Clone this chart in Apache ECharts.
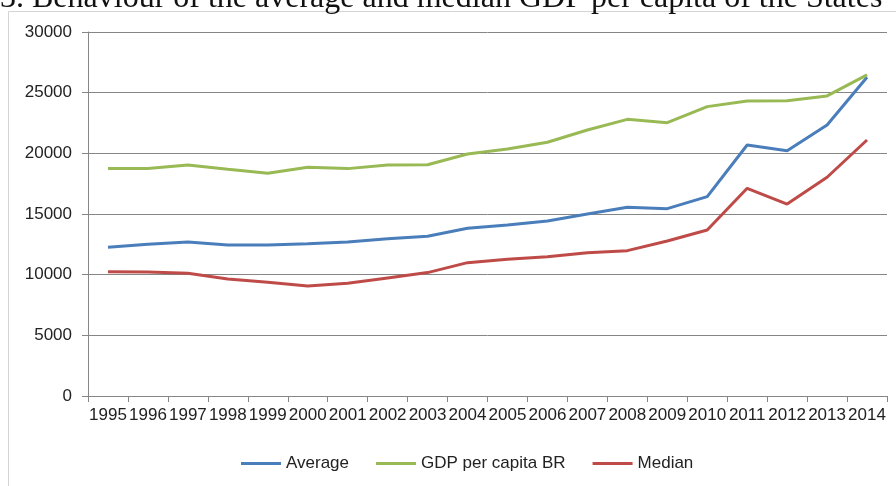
<!DOCTYPE html>
<html>
<head>
<meta charset="utf-8">
<script src="https://cdn.jsdelivr.net/npm/echarts@6/dist/echarts.min.js"></script>
<style>
  html, body { margin: 0; padding: 0; background: #fff; }
  #mainChart { width: 896px; height: 486px; }
</style>
</head>
<body>
<div id="mainChart"></div>
<script>
  var years = ['1995','1996','1997','1998','1999','2000','2001','2002','2003','2004',
               '2005','2006','2007','2008','2009','2010','2011','2012','2013','2014'];
  var average = [12250, 12500, 12690, 12450, 12450, 12550, 12690, 12970, 13160, 13820,
                 14100, 14420, 15000, 15550, 15440, 16430, 20690, 20220, 22340, 26270];
  var gdpBR = [18750, 18750, 19040, 18680, 18350, 18850, 18740, 19040, 19060, 19950,
               20350, 20910, 21920, 22800, 22530, 23850, 24310, 24340, 24730, 26460];
  var median = [10250, 10220, 10110, 9640, 9370, 9070, 9290, 9730, 10170, 10990,
                11270, 11480, 11810, 11980, 12780, 13680, 17120, 15820, 18030, 21100];
  var yTicks = [0, 5000, 10000, 15000, 20000, 25000, 30000];

  var gray = '#868686';
  var labelFont = 'Liberation Sans';

  var options = {
    animation: false,
    title: {
      text: '3. Behaviour of the average and median GDP per capita of the States',
      left: -5,
      top: -22,
      textStyle: {
        fontFamily: 'Liberation Serif',
        fontSize: 32,
        fontWeight: 'normal',
        color: '#111'
      }
    },
    graphic: [{
      type: 'rect',
      shape: { x: 8.5, y: 11.5, width: 1000, height: 1000 },
      style: { fill: 'none', stroke: '#d4d4d4', lineWidth: 1 },
      silent: true
    }],
    grid: {
      left: 88,
      right: 9,
      top: 32,
      bottom: 90
    },
    legend: {
      bottom: 9,
      left: 236,
      icon: 'rect',
      itemWidth: 40,
      itemHeight: 3,
      itemGap: 27,
      textStyle: { fontFamily: labelFont, fontSize: 17, color: '#222' },
      data: ['Average', 'GDP per capita BR', 'Median']
    },
    xAxis: {
      type: 'category',
      data: years,
      boundaryGap: true,
      axisLine: { lineStyle: { color: gray } },
      axisTick: { show: true, length: 6, lineStyle: { color: gray } },
      axisLabel: {
        interval: 0,
        margin: 11,
        fontFamily: labelFont,
        fontSize: 17,
        color: '#222'
      }
    },
    yAxis: {
      type: 'value',
      min: yTicks[0],
      max: yTicks[yTicks.length - 1],
      interval: 5000,
      axisLine: { show: true, lineStyle: { color: gray } },
      axisTick: { show: true, length: 6, lineStyle: { color: gray } },
      splitLine: { lineStyle: { color: gray, width: 1 } },
      axisLabel: {
        margin: 16,
        fontFamily: labelFont,
        fontSize: 17,
        color: '#222',
        formatter: function (v) { return String(v); }
      }
    },
    series: [{
      name: 'Average',
      type: 'line',
      data: average,
      symbol: 'none',
      color: '#4a7ebb',
      lineStyle: { width: 3 }
    }, {
      name: 'GDP per capita BR',
      type: 'line',
      data: gdpBR,
      symbol: 'none',
      color: '#98b954',
      lineStyle: { width: 3 }
    }, {
      name: 'Median',
      type: 'line',
      data: median,
      symbol: 'none',
      color: '#be4b48',
      lineStyle: { width: 3 }
    }]
  };

  var mainChart = echarts.init(document.getElementById('mainChart'));
  mainChart.setOption(options);
</script>
</body>
</html>
